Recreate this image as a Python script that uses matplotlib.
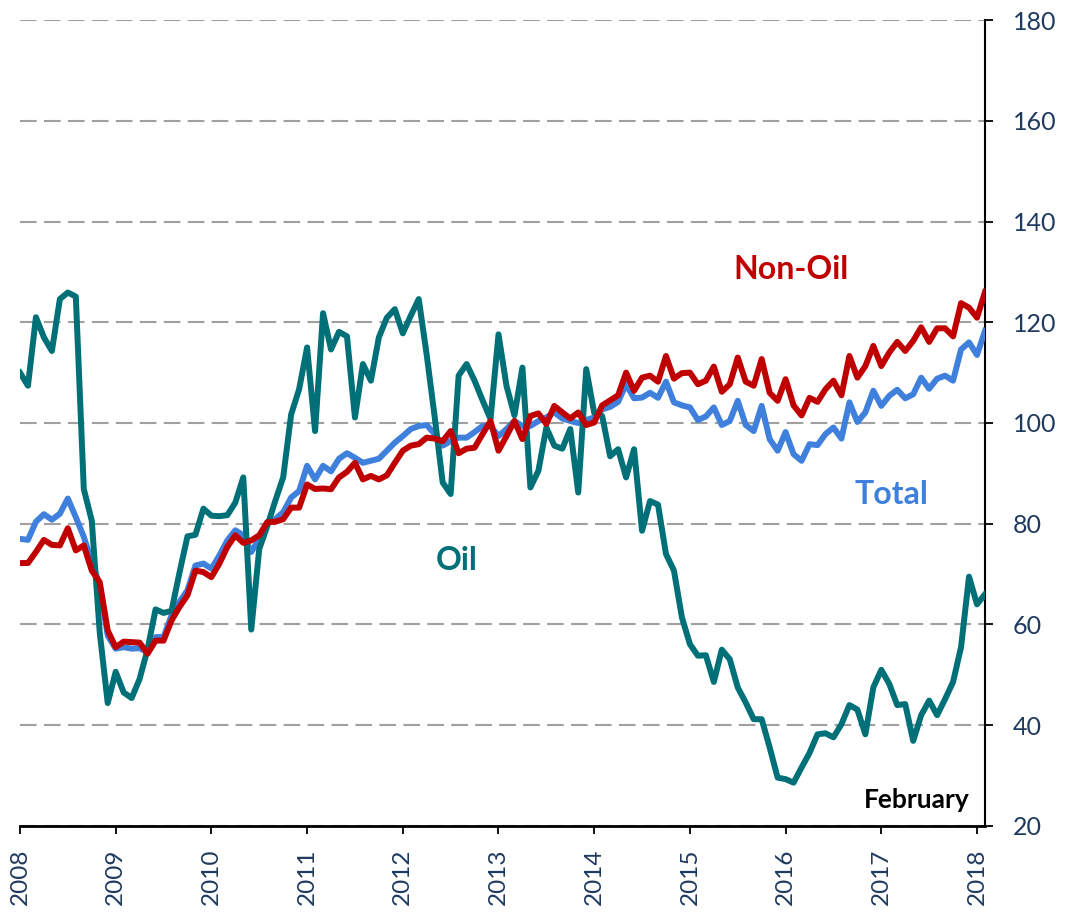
import matplotlib
matplotlib.use('Agg')
import matplotlib.pyplot as plt
import numpy as np

plt.rcParams['font.family'] = ['Lato', 'DejaVu Sans']

# monthly index values, Jan 2008 .. Feb 2018
oil = [110, 107.4, 121, 117, 114.3, 124.6, 125.9, 125.1, 86.9, 80.6,
       58.4, 44.4, 50.6, 46.5, 45.4, 49.2, 55.1, 63, 62.3, 62.7,
       70.3, 77.5, 77.8, 83, 81.6, 81.5, 81.7, 84.2, 89.2, 59,
       75, 79.5, 84.5, 89.2, 101.7, 106.7, 115, 98.4, 121.8, 114.6,
       118.1, 117.2, 101.1, 111.7, 108.4, 117, 120.9, 122.6, 117.8, 121.3,
       124.6, 113.5, 101.2, 88.2, 85.9, 109.4, 111.7, 108.4, 104.5, 100.8,
       117.6, 107.4, 101.5, 111, 87.2, 90.5, 99.1, 95.5, 94.9, 98.8,
       86.2, 110.7, 102, 101.4, 93.4, 94.8, 89.2, 94.8, 78.6, 84.5,
       83.8, 74, 70.7, 61.4, 56.1, 53.8, 53.9, 48.6, 55, 53.1,
       47.5, 44.5, 41.2, 41.2, 35.6, 29.6, 29.3, 28.6, 31.6, 34.5,
       38.2, 38.4, 37.6, 40.2, 44, 43.1, 38.2, 47.5, 51, 48.2,
       44, 44.2, 36.9, 42, 44.9, 42, 45.2, 48.6, 55.5, 69.5,
       64, 66]

non_oil = [72.2, 72.2, 74.4, 76.8, 75.8, 75.7, 79.1, 74.7, 75.7, 70.7,
           68.4, 58.8, 55.5, 56.6, 56.5, 56.4, 54.2, 56.8, 56.8, 60.8,
           63.5, 65.8, 70.7, 70.4, 69.4, 72.1, 75.4, 77.7, 76.2, 76.7,
           77.7, 80.3, 80.4, 80.9, 83.2, 83.2, 87.8, 86.9, 87, 86.85,
           89.2, 90.3, 92.1, 88.8, 89.5, 88.8, 89.6, 92.1, 94.5, 95.5,
           95.8, 97.1, 96.9, 96.4, 98.4, 94, 94.9, 95.1, 97.8, 100.4,
           94.5, 97.4, 100.4, 96.8, 101.4, 101.9, 99.8, 103.4, 102.1, 100.9,
           102.1, 99.6, 100.1, 103.5, 104.5, 105.5, 110, 106.4, 109, 109.4,
           108.2, 113.3, 108.8, 109.9, 110, 107.7, 108.4, 111.2, 106.2, 107.7,
           113, 108.2, 107.4, 112.7, 106, 104.4, 108.7, 103.5, 101.5, 105,
           104.2, 106.7, 108.4, 105.5, 113.3, 109, 111.3, 115.3, 111.3, 114,
           116.1, 114.3, 116.3, 119, 116.1, 118.8, 118.8, 117.2, 123.8, 122.9,
           120.9, 126]

total = [77, 76.8, 80.4, 81.9, 80.8, 82, 85, 81.3, 77.4, 72.4,
         67.8, 57.8, 55.2, 55.5, 55.2, 55.3, 54.5, 57.5, 57.5, 61.8,
         64.5, 66.8, 71.7, 72.1, 71.1, 73.7, 76.7, 78.7, 77.7, 74.4,
         77, 80.3, 80.9, 82.3, 85.2, 86.5, 91.5, 88.8, 91.5, 90.4,
         92.9, 94, 93.1, 92.1, 92.5, 92.9, 94.5, 96.1, 97.4, 98.8,
         99.4, 99.6, 97.8, 95.5, 96.4, 97.1, 97.1, 98.2, 99.4, 99.4,
         97.4, 98.8, 100.4, 99.4, 99.4, 100.4, 101.1, 102.1, 100.9, 100.4,
         100, 100.6, 101.1, 102.7, 103.2, 104.2, 107.7, 104.9, 105.05, 106,
         105, 108.2, 104.1, 103.5, 103.1, 100.6, 101.3, 103.1, 99.6, 100.4,
         104.4, 99.6, 98.4, 103.4, 96.8, 94.5, 98.2, 93.8, 92.5, 95.8,
         95.6, 97.8, 99.1, 96.9, 104.1, 100.2, 102.1, 106.4, 103.4, 105.4,
         106.6, 104.9, 105.7, 109, 106.8, 108.8, 109.4, 108.4, 114.6, 116,
         113.5, 118.3]

years = [str(y) for y in range(2008, 2019)]
year_pos = [12 * k for k in range(len(years))]
y_ticks = [20, 40, 60, 80, 100, 120, 140, 160, 180]

c_oil = '#007078'
c_non = '#C00000'
c_tot = '#3F80DC'
c_txt = '#1F3A5F'

months = np.arange(len(oil))

fig = plt.figure(figsize=(10.69, 9.14), dpi=100)
ax = fig.add_axes([0.0187, 0.0963, 0.9027, 0.8818])

ax.plot(months, total, color=c_tot, lw=4.3, zorder=3)
ax.plot(months, oil, color=c_oil, lw=4.3, zorder=4)
ax.plot(months, non_oil, color=c_non, lw=4.3, zorder=5)

ax.set_xlim(0, len(oil) - 1)
ax.set_ylim(20, 180)

# right hand axis with dashed grid
ax.yaxis.tick_right()
ax.set_yticks(y_ticks)
ax.set_yticklabels([str(v) for v in y_ticks])
ax.grid(axis='y', color='#A0A0A0', linestyle=(0, (8, 3.5)), lw=1.5, zorder=1)
ax.set_xticks(year_pos)
ax.set_xticklabels(years, rotation=90)

for s in ['left', 'top']:
    ax.spines[s].set_visible(False)
ax.spines['right'].set_linewidth(1.5)
ax.spines['bottom'].set_linewidth(2)

ax.tick_params(axis='y', direction='out', length=6, width=1.3, pad=14,
               labelsize=18, labelcolor=c_txt)
ax.tick_params(axis='x', direction='out', length=6, width=1.3, pad=10,
               labelsize=17.5, labelcolor=c_txt)

# series labels
ax.text(96.7, 130.4, 'Non-Oil', color=c_non, fontsize=23, fontweight='bold',
        ha='center', va='center')
ax.text(109.3, 85.9, 'Total', color=c_tot, fontsize=23, fontweight='bold',
        ha='center', va='center')
ax.text(54.8, 72.8, 'Oil', color=c_oil, fontsize=23, fontweight='bold',
        ha='center', va='center')
ax.text(112.4, 25.2, 'February', color='black', fontsize=19, fontweight='bold',
        ha='center', va='center')

fig.savefig('out.png', dpi=100)
